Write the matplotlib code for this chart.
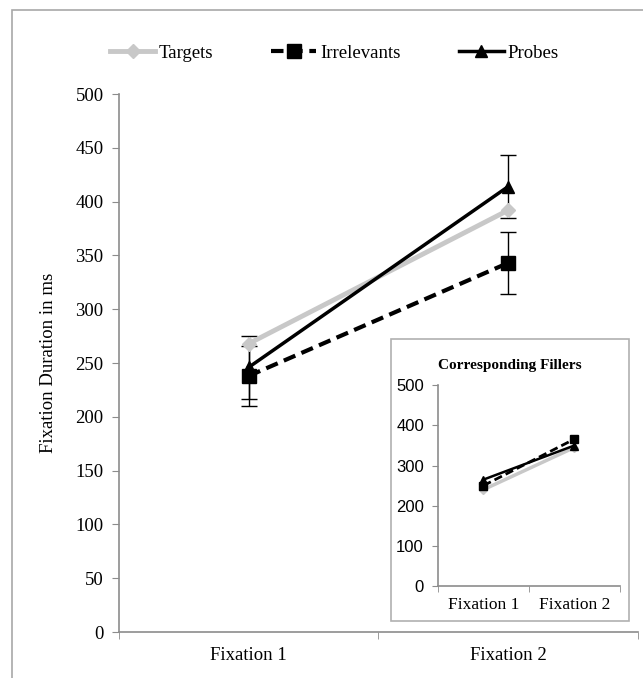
import matplotlib.pyplot as plt
from matplotlib.patches import Rectangle

# data
fixations = ['Fixation 1', 'Fixation 2']
targets = [268, 392]
irrelevants = [238, 343]
probes = [246, 414]
irrelevants_err = [28, 29]
probes_err = [29, 29]

fill_targets = [240, 345]
fill_irrelevants = [250, 366]
fill_probes = [265, 350]

main_ticks = [0, 50, 100, 150, 200, 250, 300, 350, 400, 450, 500]
inset_ticks = [0, 100, 200, 300, 400, 500]

plt.rcParams['font.family'] = ['Liberation Serif', 'DejaVu Serif']
GREY = '#c8c8c8'
AXC = '#8c8c8c'
FS = 13.5

fig = plt.figure(figsize=(6.43, 6.78), dpi=100)

# outer frame (cut off on the right and bottom)
fig.patches.append(Rectangle((12 / 643, -0.1), 1.1, (678 - 10) / 678 + 0.1,
                             transform=fig.transFigure, fill=False,
                             edgecolor='#a8a8a8', lw=1.2))

ax = fig.add_axes([0.185, 0.0678, 0.807, 0.7935])
x = [0, 1]
ax.errorbar(x, irrelevants, yerr=irrelevants_err, fmt='none', ecolor='black',
            elinewidth=1, capsize=6, zorder=1)
ax.errorbar(x, probes, yerr=probes_err, fmt='none', ecolor='black',
            elinewidth=1, capsize=6, zorder=1)
ax.plot(x, targets, color=GREY, lw=3.5, marker='D', ms=7, label='Targets', zorder=2)
ax.plot(x, irrelevants, color='black', lw=3, ls=(0, (3, 1.6)), marker='s', ms=10,
        label='Irrelevants', zorder=3)
ax.plot(x, probes, color='black', lw=2.5, marker='^', ms=9, label='Probes', zorder=4)

ax.set_xlim(-0.5, 1.5)
ax.set_ylim(0, 500)
ax.set_yticks(main_ticks)
ax.set_xticks(x)
ax.set_xticklabels(fixations)
ax.set_xticks([-0.5, 0.5, 1.5], minor=True)
ax.tick_params(axis='x', which='major', length=0, labelsize=FS, pad=11)
ax.tick_params(axis='x', which='minor', length=5, color=AXC)
ax.tick_params(axis='y', length=5, color=AXC, labelsize=FS, pad=6)
for s in ['top', 'right']:
    ax.spines[s].set_visible(False)
for s in ['left', 'bottom']:
    ax.spines[s].set_color(AXC)
    ax.spines[s].set_linewidth(1.2)
ax.set_ylabel('Fixation Duration in ms', fontsize=FS, labelpad=13)

fig.legend(loc='center', bbox_to_anchor=(0.52, 1 - 53 / 678), ncol=3, frameon=False,
           fontsize=FS, handlelength=2.4, handletextpad=0.2, columnspacing=3.1)

# inset box
fig.patches.append(Rectangle((391 / 643, (678 - 621) / 678), 238 / 643, 282 / 678,
                             transform=fig.transFigure, facecolor='white',
                             edgecolor='#b0b0b0', lw=1.2, zorder=5))

ins = fig.add_axes([0.681, 0.1357, 0.283, 0.296], zorder=6)
ins.patch.set_alpha(0)
ins.plot(x, fill_targets, color=GREY, lw=2.5, marker='D', ms=4)
ins.plot(x, fill_irrelevants, color='black', lw=2, ls=(0, (3, 1.5)), marker='s', ms=6)
ins.plot(x, fill_probes, color='black', lw=1.8, marker='^', ms=6)
ins.set_xlim(-0.5, 1.5)
ins.set_ylim(0, 500)
ins.set_yticks(inset_ticks)
ins.set_yticklabels([str(t) for t in inset_ticks], family=['Liberation Sans', 'DejaVu Sans'])
ins.set_xticks(x)
ins.set_xticklabels(fixations)
ins.set_xticks([-0.5, 0.5, 1.5], minor=True)
ins.tick_params(axis='x', which='major', length=0, labelsize=12.5, pad=8)
ins.tick_params(axis='x', which='minor', length=4, color=AXC)
ins.tick_params(axis='y', length=4, color=AXC, labelsize=12, pad=6)
for s in ['top', 'right']:
    ins.spines[s].set_visible(False)
for s in ['left', 'bottom']:
    ins.spines[s].set_color(AXC)
    ins.spines[s].set_linewidth(1.2)
fig.text(0.5 * (391 + 629) / 643, 1 - 365 / 678, 'Corresponding Fillers',
         ha='center', va='center', fontsize=11, fontweight='bold', zorder=7)

fig.savefig('out.png', dpi=100)
